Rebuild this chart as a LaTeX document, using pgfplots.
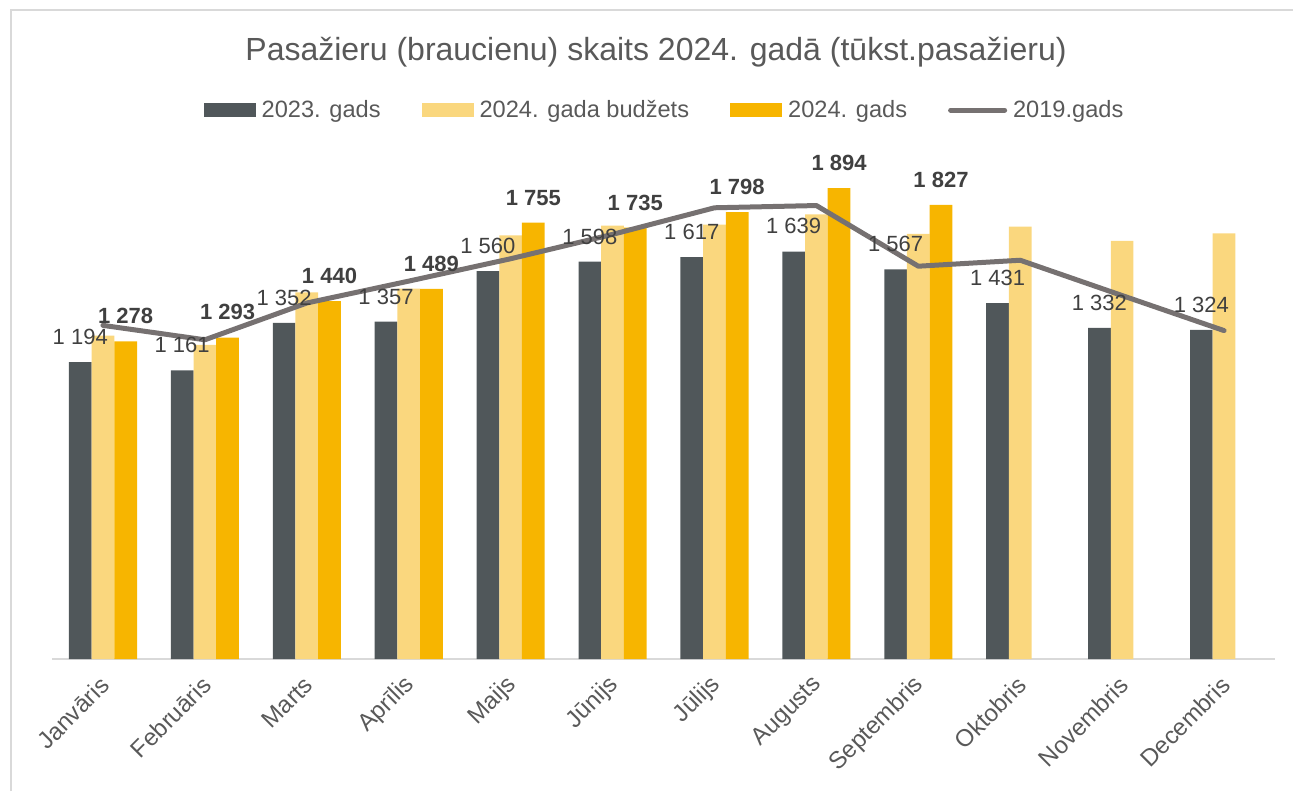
\documentclass[border=0pt]{standalone}
\usepackage{fontspec}
\setmainfont{Liberation Sans}
\usepackage{pgfplots}
\pgfplotsset{compat=1.18}
\definecolor{cdark}{HTML}{50575A}
\definecolor{cbud}{HTML}{FAD77E}
\definecolor{corange}{HTML}{F7B500}
\definecolor{cline}{HTML}{767171}
\definecolor{ctext}{HTML}{595959}
\definecolor{clabel}{HTML}{404040}
\definecolor{cframe}{HTML}{D9D9D9}
\begin{document}
\begin{tikzpicture}
\path[use as bounding box] (0pt,0pt) rectangle (646.5pt,395.5pt);
\draw[cframe, line width=1pt] (5.5pt,0pt) -- (5.5pt,390.25pt) -- (646.5pt,390.25pt);
\node[text=ctext, font=\fontsize{16pt}{19pt}\selectfont] at (328pt,369.5pt) {Pasažieru (braucienu) skaits 2024. gadā (tūkst.pasažieru)};
\begin{axis}[
  at={(26pt,66pt)}, anchor=south west,
  scale only axis, width=611.5pt, height=248.6pt,
  xmin=-0.5, xmax=11.5, ymin=0, ymax=2000,
  enlargelimits=false,
  ybar, bar width=0.2227,
  axis x line=bottom, axis y line=none,
  x axis line style={-, cframe, line width=0.75pt},
  xtick={0,...,11},
  xticklabels={Janvāris,Februāris,Marts,Aprīlis,Maijs,Jūnijs,Jūlijs,Augusts,Septembris,Oktobris,Novembris,Decembris},
  major tick length=0pt, ytick=\empty,
  xticklabel style={yshift=-11pt, xshift=1pt, rotate=45, anchor=east, inner sep=0pt, text=ctext, font=\fontsize{12pt}{14pt}\selectfont},
  point meta=explicit symbolic,
  every node near coord/.append style={anchor=south, inner sep=0pt, yshift=8.5pt, text=clabel},
  legend columns=4,
  legend style={at={(0.5,1.104)}, anchor=center, draw=none, fill=none,
    font=\fontsize{11.8pt}{14pt}\selectfont, text=ctext,
    nodes={inner sep=0pt},
    /tikz/every odd column/.append style={column sep=3pt},
    /tikz/every even column/.append style={column sep=20.5pt}},
  clip=false,
]
\addplot[fill=cdark, draw=none, bar shift=-0.2227,
  nodes near coords, every node near coord/.append style={font=\fontsize{11pt}{13pt}\selectfont},
  legend image code/.code={\fill[cdark] (0pt,-3.5pt) rectangle (26pt,3.5pt);}]
  coordinates {(0,1194) [1 194] (1,1161) [1 161] (2,1352) [1 352] (3,1357) [1 357] (4,1560) [1 560] (5,1598) [1 598] (6,1617) [1 617] (7,1639) [1 639] (8,1567) [1 567] (9,1431) [1 431] (10,1332) [1 332] (11,1324) [1 324]};
\addlegendentry{2023. gads}
\addplot[fill=cbud, draw=none, bar shift=0,
  legend image code/.code={\fill[cbud] (0pt,-3.5pt) rectangle (26pt,3.5pt);}]
  coordinates {(0,1301) (1,1264) (2,1475) (3,1490) (4,1704) (5,1743) (6,1747) (7,1788) (8,1710) (9,1739) (10,1682) (11,1712)};
\addlegendentry{2024. gada budžets}
\addplot[fill=corange, draw=none, bar shift=0.2227,
  nodes near coords, every node near coord/.append style={font=\bfseries\fontsize{11pt}{13pt}\selectfont},
  legend image code/.code={\fill[corange] (0pt,-3.5pt) rectangle (26pt,3.5pt);}]
  coordinates {(0,1278) [1 278] (1,1293) [1 293] (2,1440) [1 440] (3,1489) [1 489] (4,1755) [1 755] (5,1735) [1 735] (6,1798) [1 798] (7,1894) [1 894] (8,1827) [1 827]};
\addlegendentry{2024. gads}
\addplot[sharp plot, draw=cline, line width=2.5pt, line cap=round, line join=round, mark=none,
  legend image code/.code={\draw[cline, line width=2.5pt, line cap=round] (0pt,0pt) -- (27pt,0pt);}]
  coordinates {(0,1342) (1,1284) (2,1432) (3,1520) (4,1610) (5,1708) (6,1815) (7,1824) (8,1580) (9,1604) (10,1462) (11,1321)};
\addlegendentry{2019.gads}
\end{axis}
\end{tikzpicture}
\end{document}
